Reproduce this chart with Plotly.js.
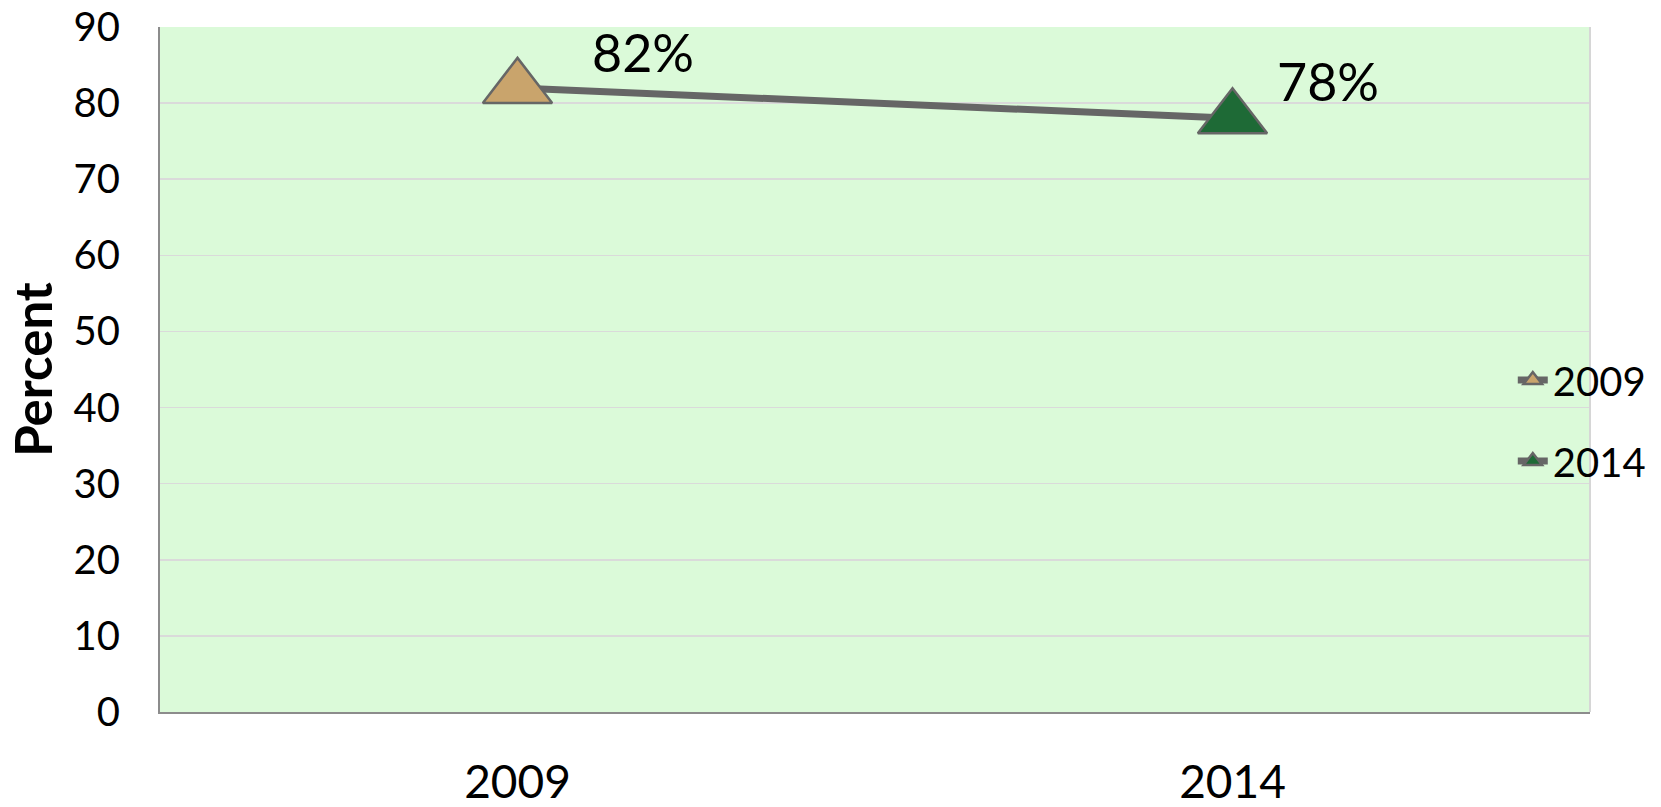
<!DOCTYPE html>
<html>
<head>
<meta charset="utf-8">
<script src="https://cdn.plot.ly/plotly-3.0.1.min.js"></script>
<style>html,body{margin:0;padding:0;background:#fff;}#chart{width:1661px;height:807px;}</style>
</head>
<body>
<div id="chart"></div>
<script>
const categories = ['2009', '2014'];
const percentValues = [82, 78];
const seriesNames = ['2009', '2014'];
const yTickValues = [0, 10, 20, 30, 40, 50, 60, 70, 80, 90];
const labelTexts = percentValues.map(v => v + '%');

const markerColors = ['#C9A46C', '#1E6A36'];
const lineColor = '#666666';
const fontFamily = 'Lato, "Open Sans", sans-serif';
const labelShifts = [{dx: 125, dy: 36}, {dx: 95, dy: 37}];

const traces = [{
  x: categories,
  y: percentValues,
  mode: 'lines',
  line: {color: lineColor, width: 7},
  showlegend: false,
  hoverinfo: 'skip'
}];
seriesNames.forEach((name, i) => {
  traces.push({
    x: [categories[i]],
    y: [percentValues[i]],
    name: name,
    mode: 'lines+markers',
    line: {color: lineColor, width: 7},
    marker: {symbol: 'triangle-up', size: 60, color: markerColors[i], line: {color: lineColor, width: 2.5}},
    legendgroup: name
  });
});

const annotations = categories.map((c, i) => ({
  x: i, y: percentValues[i], xref: 'x', yref: 'y',
  text: labelTexts[i], showarrow: false,
  xshift: labelShifts[i].dx, yshift: labelShifts[i].dy,
  font: {family: fontFamily, size: 52, color: '#000'}
}));

const layout = {
  width: 1661, height: 807,
  margin: {l: 160, r: 71, t: 27, b: 95, autoexpand: false},
  paper_bgcolor: '#ffffff',
  plot_bgcolor: '#DBFAD9',
  font: {family: fontFamily, color: '#000'},
  xaxis: {
    type: 'category',
    range: [-0.5, 1.5],
    showgrid: false,
    zeroline: false,
    showline: true, linecolor: '#8C8C8C', linewidth: 2,
    ticks: '',
    tickfont: {size: 46, color: '#000'},
    ticklabelstandoff: 29
  },
  yaxis: {
    range: [0, 90],
    tickvals: yTickValues,
    showgrid: true, gridcolor: '#DADADA', gridwidth: 1.5,
    zeroline: false,
    showline: true, linecolor: '#8C8C8C', linewidth: 2,
    ticks: '',
    tickfont: {size: 40, color: '#000'},
    ticklabelstandoff: 30,
    title: {text: '<b>Percent</b>', font: {size: 51, color: '#000'}, standoff: 5}
  },
  legend: {
    x: 0.946, xanchor: 'left', y: 0.532, yanchor: 'top',
    bgcolor: 'rgba(0,0,0,0)',
    font: {size: 40, color: '#000'},
    traceorder: 'grouped', tracegroupgap: 26,
    itemwidth: 30
  },
  shapes: [{type: 'line', xref: 'paper', yref: 'paper', x0: 1, x1: 1, y0: 0, y1: 1, line: {color: '#D6D6D6', width: 2}}],
  annotations: annotations,
  showlegend: true
};

Plotly.newPlot('chart', traces, layout, {displayModeBar: false, staticPlot: true});
</script>
</body>
</html>
